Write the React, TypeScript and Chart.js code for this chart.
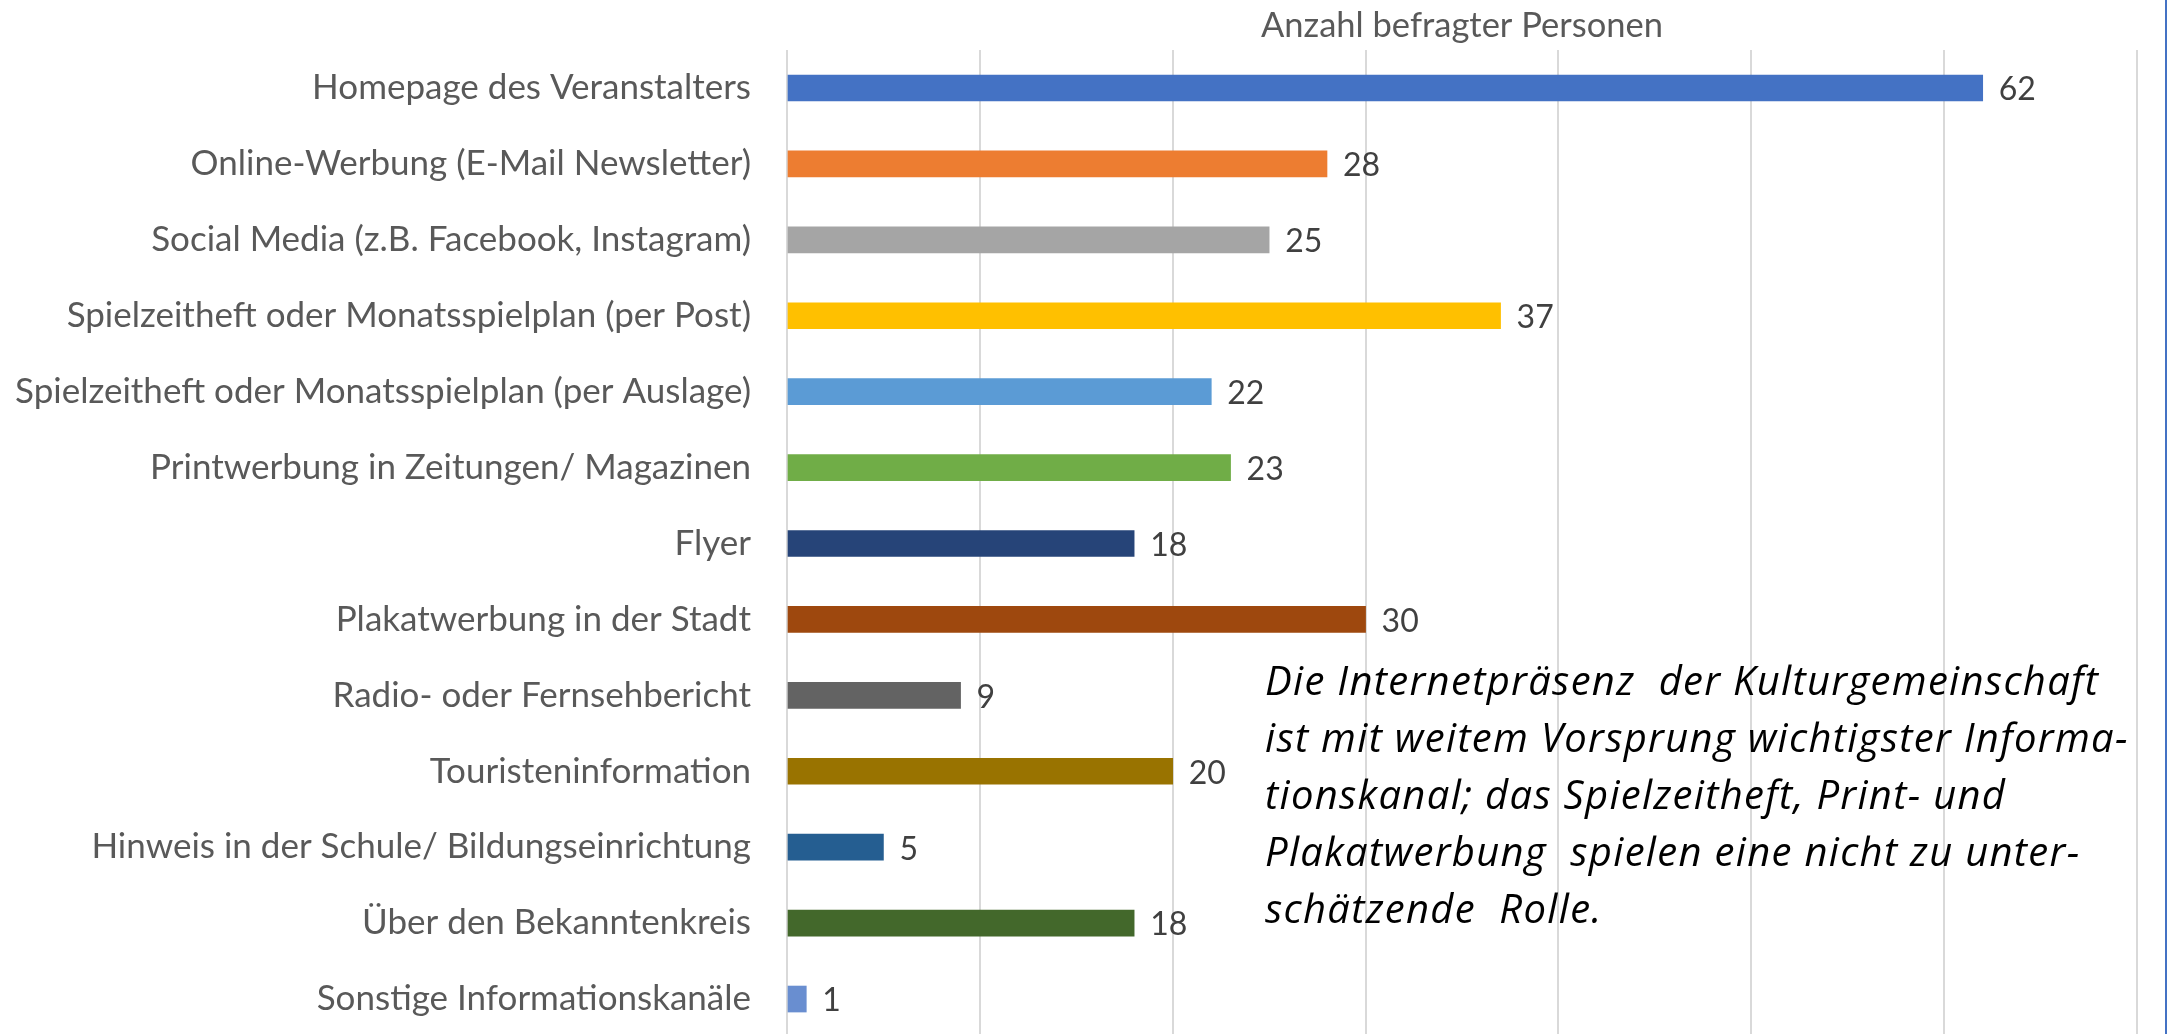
import React, { useEffect, useRef } from "react";
import { Chart, registerables } from "chart.js";

Chart.register(...registerables);

const categories = [
  "Homepage des Veranstalters",
  "Online-Werbung (E-Mail Newsletter)",
  "Social Media (z.B. Facebook, Instagram)",
  "Spielzeitheft oder Monatsspielplan (per Post)",
  "Spielzeitheft oder Monatsspielplan (per Auslage)",
  "Printwerbung in Zeitungen/ Magazinen",
  "Flyer",
  "Plakatwerbung in der Stadt",
  "Radio- oder Fernsehbericht",
  "Touristeninformation",
  "Hinweis in der Schule/ Bildungseinrichtung",
  "Über den Bekanntenkreis",
  "Sonstige Informationskanäle",
];

const values = [62, 28, 25, 37, 22, 23, 18, 30, 9, 20, 5, 18, 1];

const barColors = [
  "#4472C4",
  "#ED7D31",
  "#A5A5A5",
  "#FFC000",
  "#5B9BD5",
  "#70AD47",
  "#264478",
  "#9E480E",
  "#636363",
  "#997300",
  "#255E91",
  "#43682B",
  "#698ED0",
];

const axisTitle = "Anzahl befragter Personen";
const axisMax = 70;
const axisStep = 10;

const noteLines = [
  "Die Internetpräsenz  der Kulturgemeinschaft",
  "ist mit weitem Vorsprung wichtigster Informa-",
  "tionskanal; das Spielzeitheft, Print- und",
  "Plakatwerbung  spielen eine nicht zu unter-",
  "schätzende  Rolle.",
];

const FONT = "Lato, 'Open Sans', sans-serif";
const NOTE_FONT = "'Open Sans', Lato, sans-serif";

export default function App() {
  const canvasRef = useRef<HTMLCanvasElement | null>(null);

  useEffect(() => {
    const canvas = canvasRef.current;
    if (!canvas) return;

    const valueLabels = {
      id: "valueLabels",
      afterDatasetsDraw(chart: any) {
        const ctx = chart.ctx;
        const meta = chart.getDatasetMeta(0);
        ctx.save();
        ctx.font = `32px ${FONT}`;
        ctx.fillStyle = "#404040";
        ctx.textAlign = "left";
        ctx.textBaseline = "middle";
        meta.data.forEach((bar: any, i: number) => {
          ctx.fillText(String(values[i]), bar.x + 16, bar.y + 2);
        });
        ctx.restore();
      },
    };

    const note = {
      id: "note",
      afterDraw(chart: any) {
        const ctx = chart.ctx;
        ctx.save();
        ctx.font = `italic 40px ${NOTE_FONT}`;
        (ctx as any).letterSpacing = "1.3px";
        ctx.fillStyle = "#000000";
        ctx.textAlign = "left";
        ctx.textBaseline = "alphabetic";
        noteLines.forEach((line, i) => {
          ctx.fillText(line, 1265, 695 + i * 57);
        });
        ctx.restore();
      },
    };

    const chart = new Chart(canvas, {
      type: "bar",
      data: {
        labels: categories,
        datasets: [
          {
            data: values,
            backgroundColor: barColors,
            borderWidth: 0,
            barThickness: 26,
          },
        ],
      },
      options: {
        indexAxis: "y",
        animation: false,
        responsive: false,
        devicePixelRatio: 1,
        layout: { padding: { left: 0, right: 45, top: 0, bottom: 33 } },
        plugins: {
          legend: { display: false },
          tooltip: { enabled: false },
          title: { display: false },
        },
        scales: {
          x: {
            position: "top",
            min: 0,
            max: axisMax,
            ticks: { display: false, stepSize: axisStep },
            grid: { color: "#D9D9D9", lineWidth: 2, drawTicks: false },
            border: { display: false },
            title: {
              display: true,
              text: axisTitle,
              color: "#595959",
              font: { family: FONT, size: 34.5 },
              padding: { top: 5, bottom: 0 },
            },
            afterFit(scale: any) {
              scale.height = 50;
            },
          },
          y: {
            ticks: {
              color: "#595959",
              font: { family: FONT, size: 35 },
              padding: 0,
              autoSkip: false,
            },
            grid: { display: false, drawTicks: true, tickLength: 36 },
            border: { display: false },
            afterFit(scale: any) {
              scale.width = 787;
            },
          },
        },
      },
      plugins: [valueLabels, note],
    });

    return () => chart.destroy();
  }, []);

  return (
    <div
      style={{
        position: "fixed",
        left: 0,
        top: 0,
        width: 2182,
        height: 1034,
        overflow: "hidden",
        background: "#ffffff",
      }}
    >
      <canvas ref={canvasRef} width={2182} height={1070} style={{ display: "block" }} />
      <div
        style={{
          position: "absolute",
          left: 2165,
          top: 0,
          width: 2,
          height: 1034,
          background: "#4472C4",
        }}
      />
    </div>
  );
}
